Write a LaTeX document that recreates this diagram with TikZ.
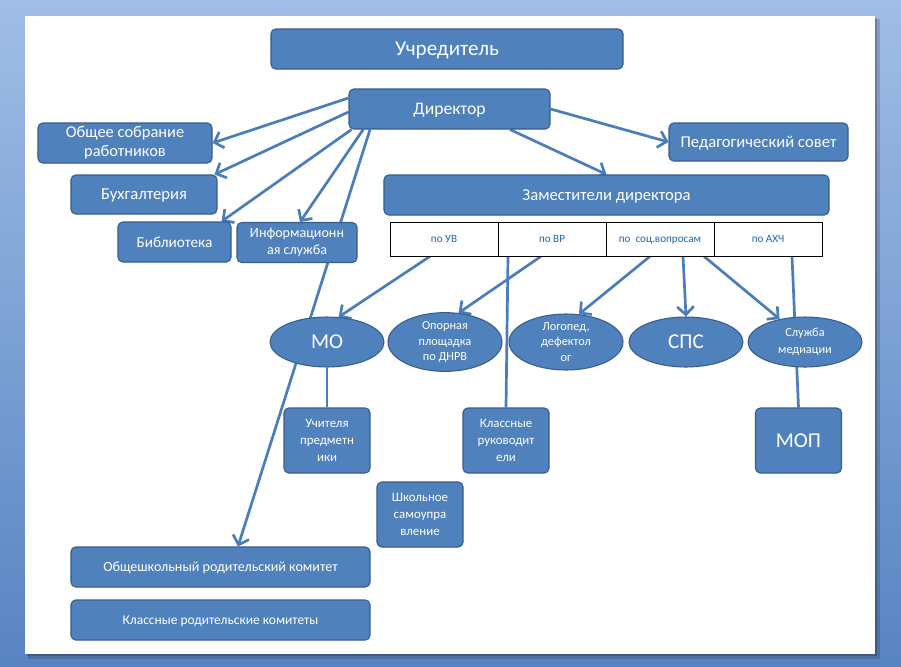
\documentclass[tikz,border=0pt]{standalone}
\usepackage{fontspec}
\setmainfont{Carlito}
\usetikzlibrary{arrows.meta,shapes.geometric}

\definecolor{bgtop}{RGB}{160,190,230}
\definecolor{bgbottom}{RGB}{88,132,194}
\definecolor{boxfill}{HTML}{4F81BD}
\definecolor{boxline}{HTML}{385D8A}
\definecolor{linkblue}{HTML}{4A7EBB}
\definecolor{celltext}{HTML}{1F66B0}

\pgfdeclarelayer{back}
\pgfdeclarelayer{links}
\pgfsetlayers{back,links,main}

\begin{document}
\begin{tikzpicture}[
x=0.03cm, y=-0.03cm,
font=\fontsize{11}{14.5}\selectfont,
box/.style={
rectangle,
rounded corners=4pt,
draw=boxline,
line width=0.9pt,
fill=boxfill,
text=white,
align=center,
inner sep=1pt
},
oneline/.style={text depth=0pt},
oval/.style={
ellipse,
draw=boxline,
line width=0.9pt,
fill=boxfill,
text=white,
align=center,
inner sep=0pt,
minimum width=3.42cm,
minimum height=1.5cm
},
cell/.style={
rectangle,
draw=black,
line width=0.6pt,
fill=white,
text=celltext,
minimum width=3.24cm,
minimum height=1.02cm,
text height=6.5pt,
text depth=0pt,
font=\fontsize{9.5}{11}\selectfont
},
link/.style={draw=linkblue, line width=2.3pt},
arrow/.style={link, -{Straight Barb[length=2.4mm,width=5mm]}}
]

% background and slide
\begin{pgfonlayer}{back}
\shade[top color=bgtop, bottom color=bgbottom] (0,0) rectangle (901,666);
\fill[black, opacity=0.15] (28,19) rectangle (880,659);
\fill[black, opacity=0.2] (27,18) rectangle (877,656);
\fill[white] (25,16) rectangle (875,654);
\end{pgfonlayer}

% top level
\node[box, oneline, minimum width=10.56cm, minimum height=1.2cm, font=\fontsize{18}{21}\selectfont] (founder) at (447,49) {Учредитель};
\node[box, oneline, minimum width=6.03cm, minimum height=1.2cm, font=\fontsize{15}{18}\selectfont] (director) at (449.5,109) {Директор};

\node[box, minimum width=5.22cm, minimum height=1.2cm, font=\fontsize{14}{16.5}\selectfont] (assembly) at (125,143) {Общее собрание\\работников};
\node[box, oneline, minimum width=5.37cm, minimum height=1.14cm, font=\fontsize{14.2}{17}\selectfont] (council) at (758.5,142) {Педагогический совет};
\node[box, oneline, minimum width=4.38cm, minimum height=1.17cm, font=\fontsize{14.2}{17}\selectfont] (accounts) at (144,194.5) {Бухгалтерия};
\node[box, oneline, minimum width=13.35cm, minimum height=1.2cm, font=\fontsize{14.2}{17}\selectfont] (deputies) at (606.5,195) {Заместители директора};
\node[box, oneline, minimum width=3.39cm, minimum height=1.2cm, font=\fontsize{13}{15}\selectfont] (library) at (174.5,242) {Библиотека};
\node[box, minimum width=3.6cm, minimum height=1.2cm, font=\fontsize{12}{14}\selectfont] (infoserv) at (297,242.5) {Информационн\\ая служба};

% deputies table
\node[cell] (uv) at (444,239) {по УВ};
\node[cell] (vr) at (552,239) {по ВР};
\node[cell] (soc) at (660,239) {по\ \ соц.вопросам};
\node[cell] (ahch) at (768,239) {по АХЧ};

% ovals
\node[oval, oneline, font=\fontsize{18}{21}\selectfont] (mo) at (327,342) {МО};
\node[oval, font=\fontsize{10.5}{13.5}\selectfont] (ndrv) at (445,342) {Опорная\\площадка\\по ДНРВ};
\node[oval, font=\fontsize{10.5}{13.5}\selectfont] (logoped) at (566,342) {Логопед,\\дефектол\\ог};
\node[oval, oneline, font=\fontsize{18}{21}\selectfont] (sps) at (686,342) {СПС};
\node[oval, font=\fontsize{10.5}{14}\selectfont] (mediation) at (805,342) {Служба\\медиации};

% lower boxes
\node[box, minimum width=2.58cm, minimum height=1.95cm] (teachers) at (327,440.5) {Учителя\\предметн\\ики};
\node[box, minimum width=2.58cm, minimum height=1.95cm] (classlead) at (506,440.5) {Классные\\руководит\\ели};
\node[box, oneline, minimum width=2.58cm, minimum height=1.95cm, font=\fontsize{18}{21}\selectfont] (mop) at (798.5,440.5) {МОП};
\node[box, minimum width=2.58cm, minimum height=1.95cm] (selfgov) at (420,514.5) {Школьное\\самоупра\\вление};
\node[box, oneline, minimum width=8.97cm, minimum height=1.2cm, font=\fontsize{12}{14}\selectfont] (parents) at (220.5,567) {Общешкольный родительский комитет};
\node[box, oneline, minimum width=8.97cm, minimum height=1.2cm, font=\fontsize{11.5}{14}\selectfont] (classparents) at (220.5,620) {Классные родительские комитеты};

% connectors
\begin{pgfonlayer}{links}
\draw[arrow] ([yshift=0.33cm]director.west) -- (assembly.east);
\draw[arrow] ([yshift=-0.09cm]director.west) -- ([xshift=-0.09cm]accounts.north east);
\draw[arrow] ([xshift=0.09cm]director.south west) -- ([xshift=-0.3cm]library.north east);
\draw[arrow] ([xshift=-2.59cm]director.south) -- ([xshift=0.09cm]infoserv.north);
\draw[arrow] ([xshift=-2.385cm]director.south) -- ([xshift=0.525cm]parents.north);
\draw[arrow] ([xshift=1.815cm]director.south) -- (deputies.north);
\draw[arrow] (director.east) -- (council.west);

\draw[arrow] ([xshift=-0.42cm]uv.south) -- (mo.65);
\draw[arrow] ([xshift=-0.33cm]vr.south) -- (ndrv.65);
\draw[link] ([xshift=-1.32cm]vr.south) -- (classlead.north);
\draw[arrow] ([xshift=-0.3cm]soc.south) -- (logoped.65);
\draw[arrow] ([xshift=0.69cm]soc.south) -- (sps.north);
\draw[arrow] ([xshift=1.32cm]soc.south) -- (mediation.138);
\draw[link] ([xshift=0.72cm]ahch.south) -- (mop.north);
\draw[link] (mo.south) -- (teachers.north);
\end{pgfonlayer}

\end{tikzpicture}
\end{document}
